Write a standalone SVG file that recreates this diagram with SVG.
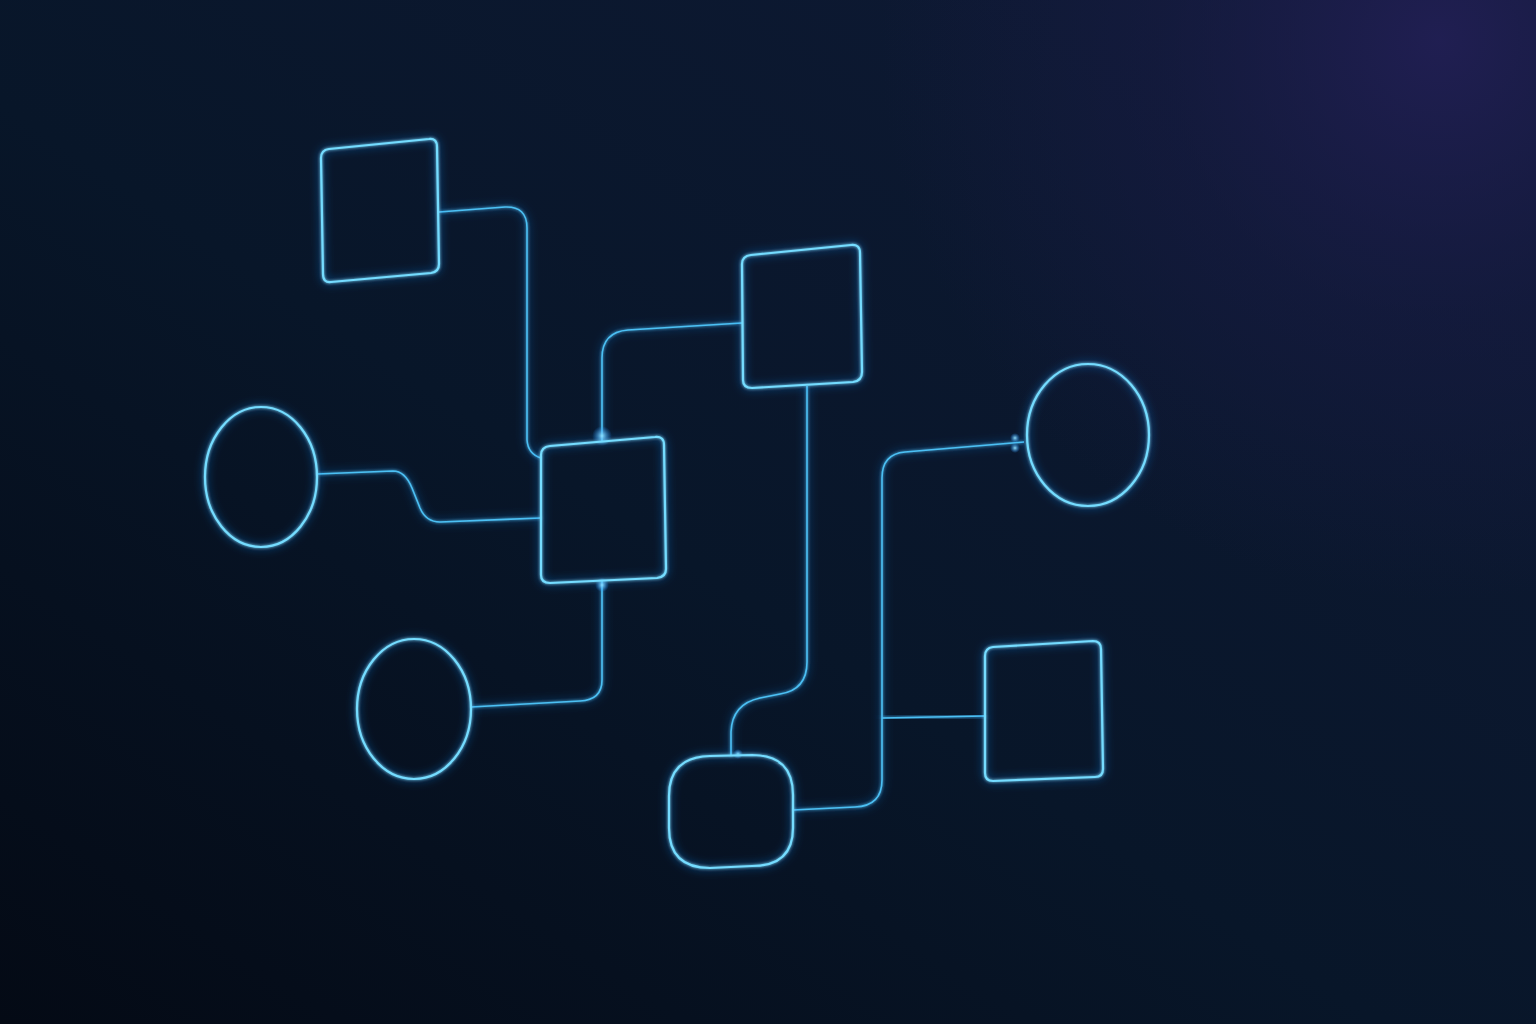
<svg xmlns="http://www.w3.org/2000/svg" width="1536" height="1024" viewBox="0 0 1536 1024">
<defs>
<linearGradient id="bg" x1="0" y1="1" x2="1" y2="0">
<stop offset="0" stop-color="#040a15"/>
<stop offset="0.45" stop-color="#081629"/>
<stop offset="1" stop-color="#0f1a36"/>
</linearGradient>
<radialGradient id="tr" cx="1440" cy="40" r="560" gradientUnits="userSpaceOnUse">
<stop offset="0" stop-color="#221f55" stop-opacity="0.9"/>
<stop offset="0.5" stop-color="#1c1c4a" stop-opacity="0.4"/>
<stop offset="1" stop-color="#1c1c4a" stop-opacity="0"/>
</radialGradient>
<filter id="glow" x="-20%" y="-20%" width="140%" height="140%">
<feGaussianBlur in="SourceAlpha" stdDeviation="5" result="a1"/>
<feFlood flood-color="#1a8fff" flood-opacity="0.9"/>
<feComposite in2="a1" operator="in" result="halo"/>
<feGaussianBlur in="SourceGraphic" stdDeviation="1.4" result="b2"/>
<feMerge><feMergeNode in="halo"/><feMergeNode in="b2"/><feMergeNode in="SourceGraphic"/></feMerge>
</filter>
<radialGradient id="spark">
<stop offset="0" stop-color="#9be8ff" stop-opacity="0.95"/>
<stop offset="1" stop-color="#1e90ff" stop-opacity="0"/>
</radialGradient>
</defs>
<style>
.n{fill:none;stroke:#74dcff;stroke-width:2.2;filter:url(#glow)}
.c{fill:none;stroke:#4cc0f4;stroke-width:1.6;filter:url(#glow)}
</style>
<rect width="1536" height="1024" fill="url(#bg)"/>
<rect width="1536" height="1024" fill="url(#tr)"/>
<g id="connectors">
<path class="c" d="M439,212 L505,207 Q527,206 527,228 L527,440 Q528,454 541,458"/>
<path class="c" d="M602,441 L602,358 Q602,332 628,330 L742,323"/>
<path class="c" d="M317,474 L393,471 Q405,471 412,488 L420,508 Q426,522 440,522 L541,518"/>
<path class="c" d="M602,580 L602,680 Q602,700 580,701 L471,707"/>
<path class="c" d="M807,386 L807,662 Q807,690 780,694 L760,698 Q732,704 731,732 L731,756"/>
<path class="c" d="M1024,442 L905,452 Q882,454 882,478 L882,780 Q882,806 855,807 L793,810"/>
<path class="c" d="M882,718 L985,716"/>
<circle cx="602" cy="436" r="10" fill="url(#spark)"/>
<circle cx="602" cy="585" r="7" fill="url(#spark)"/>
<circle cx="1015" cy="438" r="5" fill="url(#spark)"/>
<circle cx="1015" cy="448" r="5" fill="url(#spark)"/>
<circle cx="738" cy="754" r="5" fill="url(#spark)"/>
</g>
<g id="node-topleft"><path class="n" d="M329,149 L429,139 Q437,138 437,147 L439,264 Q439,272 431,273 L331,282 Q323,283 323,274 L321,158 Q321,150 329,149 Z"/></g>
<g id="node-center"><path class="n" d="M550,446 L655,437 Q664,436 664,445 L666,569 Q666,577 657,578 L550,583 Q541,583 541,575 L541,455 Q541,447 550,446 Z"/></g>
<g id="node-topmid"><path class="n" d="M751,255 L851,245 Q860,244 860,253 L862,372 Q862,381 853,382 L752,388 Q743,388 743,380 L742,264 Q742,256 751,255 Z"/></g>
<g id="node-bottomright"><path class="n" d="M993,647 L1093,641 Q1101,641 1101,649 L1103,769 Q1103,777 1095,777 L993,781 Q985,781 985,773 L985,656 Q985,648 993,647 Z"/></g>
<g id="node-bottom"><path class="n" d="M710,756 L752,755 Q793,755 793,795 L793,828 Q793,866 752,866 L710,868 Q669,868 669,828 L669,796 Q669,757 710,756 Z"/></g>
<g id="node-circle-left"><ellipse class="n" cx="261" cy="477" rx="56" ry="70"/></g>
<g id="node-circle-bottomleft"><ellipse class="n" cx="414" cy="709" rx="57" ry="70"/></g>
<g id="node-circle-right"><ellipse class="n" cx="1088" cy="435" rx="61" ry="71"/></g>
</svg>
